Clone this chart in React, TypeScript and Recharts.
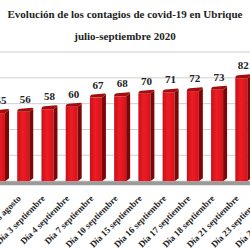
import { BarChart, Bar, XAxis, YAxis, CartesianGrid, LabelList, ReferenceArea } from 'recharts';

const dias = [
  'Día 26 agosto',
  'Día 28 agosto',
  'Día 3 septiembre',
  'Día 4 septiembre',
  'Día 7 septiembre',
  'Día 10 septiembre',
  'Día 15 septiembre',
  'Día 16 septiembre',
  'Día 17 septiembre',
  'Día 18 septiembre',
  'Día 21 septiembre',
  'Día 23 septiembre',
  'Día 24 septiembre',
];
const contagios = [55, 56, 58, 60, 67, 68, 70, 71, 72, 73, 82, null, null];
const yTicks = [0, 10, 20, 30, 40, 50, 60, 70, 80, 90, 100];

const data = dias.map((dia, i) => ({ dia, contagios: contagios[i] }));

const serif = '"Liberation Serif", "Times New Roman", serif';

const Bar3D = (props: any) => {
  const { x, y, width, height } = props;
  if (!height || height <= 0) return null;
  const d = 4;
  const fw = width - d;
  return (
    <g>
      <rect x={x} y={y + 3} width={fw} height={height - 3} fill="url(#frontRed)" />
      <polygon
        points={`${x + fw},${y + 3} ${x + width},${y} ${x + width},${height + y - 3} ${x + fw},${y + height}`}
        fill="#7d0707"
      />
      <path
        d={`M${x},${y + 3} Q${x},${y} ${x + 3},${y} L${x + width - 1},${y - 1} Q${x + width},${y - 1} ${x + width},${y} L${x + fw},${y + 3} Z`}
        fill="#a30d0d"
      />
    </g>
  );
};

const Tick = ({ x, y, payload }: any) => (
  <text
    transform={`translate(${x - 4},${y + 6}) rotate(-45)`}
    textAnchor="end"
    fontFamily={serif}
    fontWeight="bold"
    fontSize={9}
    fill="#222"
  >
    {payload.value}
  </text>
);

export default function App() {
  return (
    <div style={{ position: 'absolute', left: 0, top: 0, width: 250, height: 250, overflow: 'hidden', background: '#fff' }}>
      <div style={{ position: 'absolute', left: 0, top: 8, width: 250, textAlign: 'center', fontFamily: serif, fontWeight: 'bold', fontSize: 11, color: '#222' }}>
        Evolución de los contagios de covid-19 en Ubrique
      </div>
      <div style={{ position: 'absolute', left: 0, top: 30, width: 250, textAlign: 'center', fontFamily: serif, fontWeight: 'bold', fontSize: 11, color: '#222' }}>
        julio-septiembre 2020
      </div>
      <div style={{ position: 'absolute', left: -11, top: 0 }}>
        <BarChart width={315} height={250} data={data} margin={{ top: 52, right: 0, left: 0, bottom: 0 }} barCategoryGap={0}>
          <defs>
            <linearGradient id="frontRed" x1="0" y1="0" x2="1" y2="0">
              <stop offset="0%" stopColor="#c8101a" />
              <stop offset="45%" stopColor="#ee1c24" />
              <stop offset="100%" stopColor="#d5121b" />
            </linearGradient>
          </defs>
          <CartesianGrid vertical={false} stroke="#cfcfcf" />
          <XAxis dataKey="dia" interval={0} tick={<Tick />} tickLine={false} axisLine={false} height={65} />
          <YAxis hide domain={[-3, 100]} ticks={yTicks} />
          <ReferenceArea y1={-3} y2={0} fill="#9a9a9a" fillOpacity={1} stroke="none" />
          <Bar dataKey="contagios" barSize={16} shape={<Bar3D />} isAnimationActive={false}>
            <LabelList dataKey="contagios" position="top" offset={6} fontFamily={serif} fontWeight="bold" fontSize={11} fill="#222" />
          </Bar>
        </BarChart>
      </div>
    </div>
  );
}
